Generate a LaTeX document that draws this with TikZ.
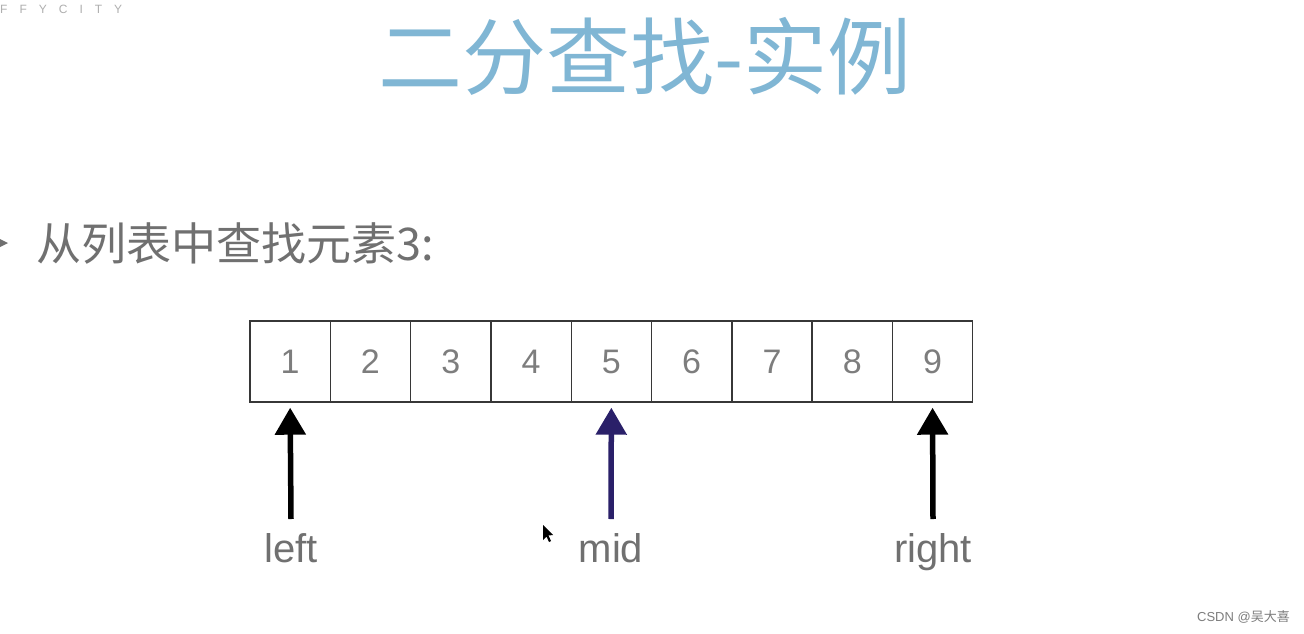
\documentclass[tikz,border=0pt]{standalone}
\usepackage{fontspec}
\setmainfont{Liberation Sans}
\newfontfamily\cjk{Noto Sans CJK SC}
\newfontfamily\spacedfont[LetterSpace=100]{Liberation Sans}
\usetikzlibrary{arrows.meta}
\definecolor{titleblue}{RGB}{128,182,212}
\definecolor{textgray}{RGB}{112,112,112}
\definecolor{numgray}{RGB}{125,125,125}
\definecolor{boxline}{RGB}{55,55,55}
\definecolor{navy}{RGB}{42,32,105}
\definecolor{lightgray}{RGB}{175,175,175}
\tikzset{
  cell/.style={draw=boxline, line width=1.4pt, minimum width=80.3pt, minimum height=81pt, inner sep=0pt, text=numgray, font=\fontsize{34}{34}\selectfont},
  lbl/.style={text=textgray, font=\fontsize{40}{40}\selectfont, inner sep=0pt, anchor=base},
  ptr/.style={line width=5.5pt, -{Triangle[width=30pt,length=27pt]}},
}
\begin{document}
\begin{tikzpicture}[x=1pt,y=-1pt]
\useasboundingbox (0,0) rectangle (1304,634);
\fill[white] (0,0) rectangle (1304,634);
% top-left logo text
\node[anchor=west, text=lightgray, font=\spacedfont\fontsize{12}{12}\selectfont, inner sep=0pt] (logo) at (0,9) {FFYCITY};
% title
\node[text=titleblue, font=\cjk\fontsize{84}{84}\selectfont, inner sep=0pt] (title) at (645,56) {二分查找-实例};
% bullet
\fill[textgray] (-6,236) -- (8,243) -- (-6,250) -- (-2,243) -- cycle;
% subtitle
\node[anchor=west, text=textgray, font=\cjk\fontsize{45}{45}\selectfont, inner sep=0pt] (sub) at (36,243) {从列表中查找元素3:};
% cells
\foreach \i in {1,...,9} {
  \node[cell] (c\i) at ({250+80.3*(\i-0.5)},361.5) {\i};
}
% labels
\node[lbl] (left) at (291,562) {left};
\node[lbl] (mid) at (611,562) {mid};
\node[lbl] (right) at (933,562) {right};
\coordinate (aL) at (291,519);
\coordinate (aM) at (611,519);
\coordinate (aR) at (933,519);
\draw[ptr, black] (aL) -- ([yshift=-5pt]c1.south);
\draw[ptr, navy] (aM) -- ([yshift=-5pt]c5.south);
\draw[ptr, black] (aR) -- ([yshift=-5pt]c9.south);
% mouse cursor
\fill[black] (543,525) -- (543,540) -- (546.5,536.5) -- (549,542) -- (551,541) -- (548.5,535.5) -- (553,535) -- cycle;
% watermark
\node[anchor=east, text=numgray, font=\fontsize{13}{13}\selectfont, inner sep=0pt] (wm) at (1290,617) {CSDN @{\cjk 吴大喜}};
\end{tikzpicture}
\end{document}
